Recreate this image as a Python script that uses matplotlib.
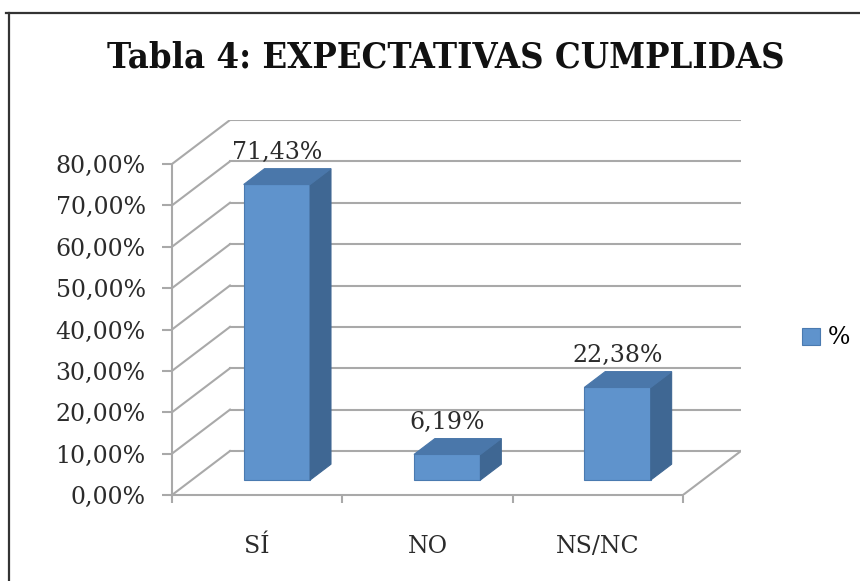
import matplotlib
matplotlib.use("Agg")
import matplotlib.pyplot as plt
from matplotlib.patches import Polygon
from matplotlib.lines import Line2D

# ---- data ----
categories = ["SÍ", "NO", "NS/NC"]
values = [71.43, 6.19, 22.38]
value_labels = ["71,43%", "6,19%", "22,38%"]
yticks = [0, 10, 20, 30, 40, 50, 60, 70, 80]
ytick_labels = ["0,00%", "10,00%", "20,00%", "30,00%", "40,00%",
                "50,00%", "60,00%", "70,00%", "80,00%"]
series_name = "%"
title = "Tabla 4: EXPECTATIVAS CUMPLIDAS"

# ---- geometry / style ----
W, H = 860, 581
PX_X = 170.33          # px per category unit
PX_Y = 4.1375          # px per percent
DX = 58 / PX_X         # depth offset (x, data units)
DY = 44 / PX_Y         # depth offset (y, data units)
Z0, Z1 = 0.34, 0.70    # bar front/back depth fraction
BAR_W = 0.39
GRID = "#a9a9a9"
FRONT = "#5f93cc"
TOP = "#4a77aa"
SIDE = "#3f6793"
EDGE = "#4a7ab0"
TXT = "#2b2b2b"
SERIF = ["DejaVu Serif", "Liberation Serif"]

fig = plt.figure(figsize=(W / 100, H / 100), dpi=100)
fig.patch.set_facecolor("white")

# axes placement in pixels
x0_px, y0_px = 172, 495
ncat = len(categories)
xmax = ncat + DX
ymax = 80 + DY
ax_w = xmax * PX_X
ax_h = ymax * PX_Y
ax = fig.add_axes([x0_px / W, (H - y0_px) / H, ax_w / W, ax_h / H])
ax.set_xlim(0, xmax)
ax.set_ylim(0, ymax)
ax.set_facecolor("none")

# back wall grid lines and side wall diagonals
for v in yticks:
    ax.plot([DX, ncat + DX], [v + DY, v + DY], color=GRID, lw=1.5, zorder=1)
    ax.plot([0, DX], [v, v + DY], color=GRID, lw=1.5, zorder=1)
# floor right diagonal
ax.plot([ncat, ncat + DX], [0, DY], color=GRID, lw=1.5, zorder=1)

# bars (front faces through ax.bar)
xpos = [i + 0.5 + Z0 * DX for i in range(ncat)]
bars = ax.bar(xpos, values, width=BAR_W, bottom=Z0 * DY, color=FRONT,
              edgecolor=EDGE, linewidth=0.8, zorder=3, label=series_name)
ddx = (Z1 - Z0) * DX
ddy = (Z1 - Z0) * DY
for rect, v in zip(bars, values):
    xl = rect.get_x()
    xr = xl + rect.get_width()
    yb = rect.get_y()
    yt = yb + rect.get_height()
    top = Polygon([(xl, yt), (xr, yt), (xr + ddx, yt + ddy), (xl + ddx, yt + ddy)],
                  closed=True, facecolor=TOP, edgecolor=TOP, lw=0.8, zorder=3)
    side = Polygon([(xr, yb), (xr + ddx, yb + ddy), (xr + ddx, yt + ddy), (xr, yt)],
                   closed=True, facecolor=SIDE, edgecolor=SIDE, lw=0.8, zorder=3)
    ax.add_patch(side)
    ax.add_patch(top)

# data labels
for xp, v, lab in zip(xpos, values, value_labels):
    ax.text(xp, v + Z1 * DY + 2.3, lab, ha="center", va="baseline",
            fontsize=17, family=SERIF, color=TXT, zorder=5)

# spines / ticks
for s in ["top", "right"]:
    ax.spines[s].set_visible(False)
ax.spines["left"].set_bounds(0, 80)
ax.spines["bottom"].set_bounds(0, ncat)
for s in ["left", "bottom"]:
    ax.spines[s].set_color(GRID)
    ax.spines[s].set_linewidth(1.5)
ax.set_yticks(yticks)
ax.set_yticklabels(ytick_labels, family=SERIF, fontsize=17, color=TXT)
ax.tick_params(axis="y", direction="out", length=7, width=1.5, color=GRID, pad=12)

ax.set_xticks(range(ncat + 1))
ax.set_xticklabels([""] * (ncat + 1))
ax.tick_params(axis="x", which="major", direction="out", length=6, width=1.5, color=GRID)
ax.set_xticks([i + 0.5 for i in range(ncat)], minor=True)
ax.set_xticklabels(categories, minor=True, family=SERIF, fontsize=17, color=TXT)
ax.tick_params(axis="x", which="minor", length=0, pad=29)

# title
fig.text(446 / W, (H - 57) / H, title, ha="center", va="center",
         fontsize=26, fontweight="bold", family=["DejaVu Serif", "Liberation Serif"],
         fontstretch="condensed", color="#111111")

# legend
fig.legend(handles=[bars], labels=[series_name], loc="center left",
           bbox_to_anchor=(802 / W, (H - 338) / H), frameon=False,
           handlelength=0.75, handleheight=0.75, handletextpad=0.35,
           borderpad=0, borderaxespad=0,
           prop={"family": SERIF, "size": 17})

# outer frame (top and left lines)
fig.add_artist(Line2D([6 / W, 1], [(H - 12.5) / H] * 2, transform=fig.transFigure,
                      color="#333333", lw=1.6))
fig.add_artist(Line2D([9 / W] * 2, [0, (H - 12.5) / H], transform=fig.transFigure,
                      color="#333333", lw=1.6))

fig.savefig("out.png", dpi=100, facecolor="white")
